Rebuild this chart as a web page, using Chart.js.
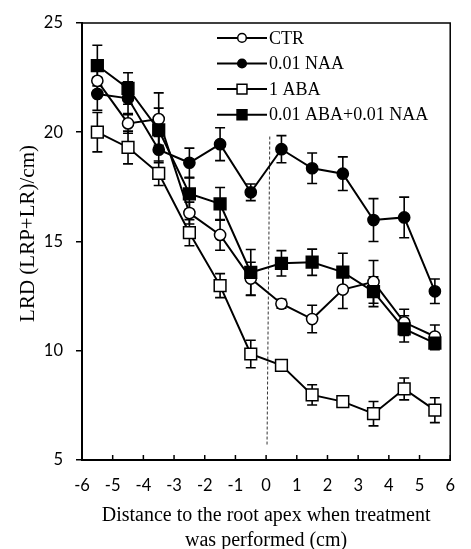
<!DOCTYPE html>
<html>
<head>
<meta charset="utf-8">
<script src="https://cdn.jsdelivr.net/npm/chart.js@4"></script>
<style>
  html, body { margin: 0; padding: 0; background: #fff; }
  #wrap { width: 471px; height: 549px; position: relative; }
</style>
</head>
<body>
<div id="wrap"><canvas id="c" width="471" height="549"></canvas></div>
<script>
// ---- data ----
const distances = [-5.5, -4.5, -3.5, -2.5, -1.5, -0.5, 0.5, 1.5, 2.5, 3.5, 4.5, 5.5];
const seriesNames = ['CTR', '0.01 NAA', '1 ABA', '0.01 ABA+0.01 NAA'];
const ctrValues    = [22.35, 20.4, 20.6, 16.3, 15.3, 13.3, 12.15, 11.45, 12.8, 13.15, 11.3, 10.65];
const ctrErrors    = [0.45, 0.45, 1.2, 0.5, 0.7, 0.75, 0.2, 0.63, 0.87, 0.98, 0.6, 0.53];
const naaValues    = [21.75, 21.55, 19.2, 18.6, 19.45, 17.25, 19.22, 18.35, 18.1, 15.98, 16.1, 12.72];
const naaErrors    = [0.75, 0.75, 0.6, 0.67, 0.75, 0.38, 0.62, 0.7, 0.77, 0.98, 0.93, 0.56];
const abaValues    = [20.0, 19.3, 18.12, 15.4, 12.98, 9.85, 9.33, 7.98, 7.67, 7.12, 8.25, 7.28];
const abaErrors    = [0.9, 0.75, 0.56, 0.6, 0.55, 0.63, 0.2, 0.46, 0.2, 0.56, 0.5, 0.57];
const abaNaaValues = [23.05, 22.0, 20.1, 17.18, 16.72, 13.58, 14.0, 14.05, 13.6, 12.7, 11.0, 10.35];
const abaNaaErrors = [0.93, 0.72, 1.0, 0.72, 0.75, 1.05, 0.58, 0.6, 0.86, 0.68, 0.6, 0.3];
const dashX = [0.12, 0.03];
const dashY = [19.8, 5.7];
const xTicks = [-6, -5, -4, -3, -2, -1, 0, 1, 2, 3, 4, 5, 6];
const yTicks = [5, 10, 15, 20, 25];
const xTitle = ['Distance to the root apex when treatment', 'was performed (cm)'];
const yTitle = 'LRD (LRP+LR)/cm)';

const toPts = (vals) => vals.map((v, i) => ({ x: distances[i], y: v }));

const styles = [
  { style: 'circle', fill: '#fff', r: 5.6, lr: 4.3 },
  { style: 'circle', fill: '#000', r: 5.6, lr: 4.3 },
  { style: 'rect', fill: '#fff', r: 8.3, lr: 6.0 },
  { style: 'rect', fill: '#000', r: 8.3, lr: 6.0 }
];
const valueSets = [ctrValues, naaValues, abaValues, abaNaaValues];
const errorSets = [ctrErrors, naaErrors, abaErrors, abaNaaErrors];
const drawOrder = [4, 3, 2, 1];

const datasets = valueSets.map((vals, k) => ({
  label: seriesNames[k],
  data: toPts(vals),
  errors: errorSets[k],
  borderColor: '#000',
  borderWidth: 2,
  backgroundColor: styles[k].fill,
  pointStyle: styles[k].style,
  pointRadius: styles[k].r,
  pointHoverRadius: styles[k].r,
  pointBackgroundColor: styles[k].fill,
  pointBorderColor: '#000',
  pointBorderWidth: 1.5,
  fill: false,
  tension: 0,
  order: drawOrder[k]
}));
datasets.push({
  label: 'treatment',
  data: dashX.map((x, i) => ({ x: x, y: dashY[i] })),
  borderColor: '#333',
  borderWidth: 1,
  borderDash: [3, 2],
  pointRadius: 0,
  fill: false,
  order: 10
});

const errorBarPlugin = {
  id: 'errorBars',
  beforeDatasetsDraw(chart) {
    const { ctx, scales: { x, y } } = chart;
    ctx.save();
    ctx.strokeStyle = '#000';
    ctx.lineWidth = 1.6;
    chart.data.datasets.forEach((ds) => {
      if (!ds.errors) return;
      ds.data.forEach((p, i) => {
        const e = ds.errors[i];
        const px = x.getPixelForValue(p.x);
        const pt = y.getPixelForValue(p.y + e);
        const pb = y.getPixelForValue(p.y - e);
        ctx.beginPath();
        ctx.moveTo(px, pt); ctx.lineTo(px, pb);
        ctx.moveTo(px - 5, pt); ctx.lineTo(px + 5, pt);
        ctx.moveTo(px - 5, pb); ctx.lineTo(px + 5, pb);
        ctx.stroke();
      });
    });
    ctx.restore();
  }
};

const frameLegendPlugin = {
  id: 'frameLegend',
  afterDraw(chart) {
    const { ctx, chartArea: a, scales: { x } } = chart;
    ctx.save();
    ctx.strokeStyle = '#000';
    ctx.lineWidth = 1.5;
    ctx.beginPath();
    ctx.moveTo(a.left, a.top); ctx.lineTo(a.right, a.top); ctx.lineTo(a.right, a.bottom);
    ctx.stroke();
    xTicks.forEach((t) => {
      const px = x.getPixelForValue(t);
      ctx.beginPath();
      ctx.moveTo(px, a.bottom); ctx.lineTo(px, a.bottom - 5);
      ctx.stroke();
    });
    // y axis title
    ctx.save();
    ctx.translate(28, a.top + (a.bottom - a.top) / 2 - 8);
    ctx.rotate(-Math.PI / 2);
    ctx.font = '21px "Liberation Serif", "Times New Roman", serif';
    ctx.textAlign = 'center';
    ctx.textBaseline = 'middle';
    ctx.fillStyle = '#000';
    ctx.fillText(yTitle, 0, 0);
    ctx.restore();
    // legend
    const lx0 = a.left + 135, lx1 = a.left + 185, mx = a.left + 160, tx = a.left + 187;
    ctx.font = '18px "Liberation Serif", "Times New Roman", serif';
    ctx.textBaseline = 'middle';
    seriesNames.forEach((name, k) => {
      const yy = a.top + 15 + k * 25.6;
      ctx.strokeStyle = '#000';
      ctx.lineWidth = 2;
      ctx.beginPath(); ctx.moveTo(lx0, yy); ctx.lineTo(lx1, yy); ctx.stroke();
      ctx.lineWidth = 1.5;
      ctx.fillStyle = styles[k].fill;
      ctx.beginPath();
      if (styles[k].style === 'circle') {
        ctx.arc(mx, yy, styles[k].lr, 0, Math.PI * 2);
      } else {
        const s = styles[k].lr * 0.707;
        ctx.rect(mx - s - 0.7, yy - s - 0.7, 2 * s + 1.4, 2 * s + 1.4);
      }
      ctx.fill(); ctx.stroke();
      ctx.fillStyle = '#000';
      ctx.fillText(name, tx, yy + 1);
    });
    ctx.restore();
  }
};

new Chart(document.getElementById('c'), {
  type: 'line',
  data: { datasets },
  plugins: [errorBarPlugin, frameLegendPlugin],
  options: {
    responsive: false,
    animation: false,
    events: [],
    layout: { padding: { top: 17, right: 8, left: 0, bottom: 0 } },
    plugins: { legend: { display: false }, tooltip: { enabled: false } },
    scales: {
      x: {
        type: 'linear',
        min: -6, max: 6,
        afterBuildTicks: (s) => { s.ticks = xTicks.map(v => ({ value: v })); },
        afterFit: (s) => { s.height = 89; },
        ticks: { color: '#000', font: { family: 'Lato', size: 16.5 }, padding: 16, maxRotation: 0, autoSkip: false },
        grid: { drawOnChartArea: false, drawTicks: false },
        border: { color: '#000', width: 2 },
        title: {
          display: true, text: xTitle, color: '#000',
          font: { family: 'Liberation Serif', size: 20, lineHeight: 1.29 },
          padding: { top: 0, bottom: -5 }
        }
      },
      y: {
        type: 'linear',
        min: 5, max: 25,
        afterBuildTicks: (s) => { s.ticks = yTicks.map(v => ({ value: v })); },
        afterFit: (s) => { s.width = 82; },
        ticks: { color: '#000', font: { family: 'Lato', size: 16.5 }, padding: 13 },
        grid: { drawOnChartArea: false, drawTicks: true, tickLength: 6, color: '#000', lineWidth: 1.5 },
        border: { color: '#000', width: 2 },
        title: { display: false }
      }
    }
  }
});
</script>
</body>
</html>
